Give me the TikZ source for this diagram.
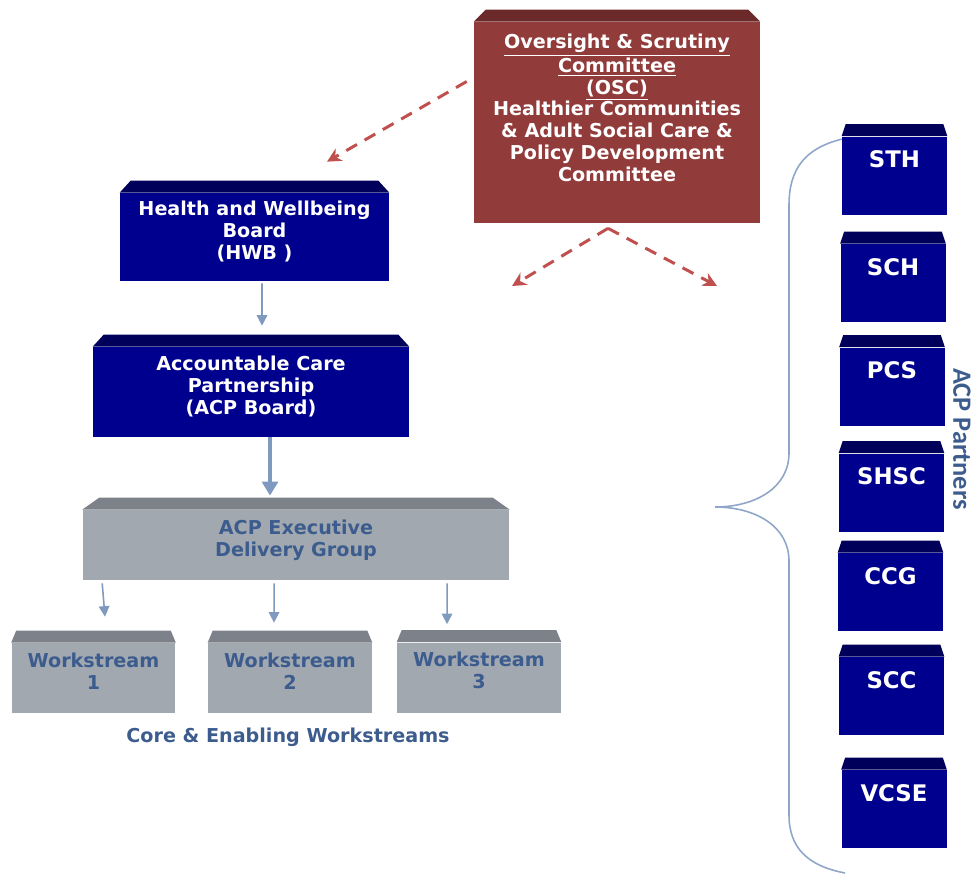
\documentclass[tikz,border=0pt]{standalone}
\usepackage{fontspec}
\setmainfont{DejaVu Sans}
\newfontfamily\sidefont{Carlito}
\usepackage{tikz}
\usetikzlibrary{arrows.meta,positioning,calc}

\definecolor{oscred}{HTML}{913B3A}
\definecolor{osctop}{HTML}{6B2A29}
\definecolor{boardblue}{HTML}{00008E}
\definecolor{boardtop}{HTML}{00005A}
\definecolor{groupgrey}{HTML}{A1A8B0}
\definecolor{grouptop}{HTML}{7D8189}
\definecolor{grouptext}{HTML}{3D5C8E}
\definecolor{linkblue}{HTML}{7F99BF}
\definecolor{dashred}{HTML}{C0504D}
\definecolor{braceblue}{HTML}{8FA6C8}

\tikzset{
  lbl/.style={font=\bfseries\fontsize{10.9}{12.4}\selectfont, align=center, inner sep=0pt},
  oscbox/.style={lbl, fill=oscred, text=white, text depth=17pt},
  board/.style={lbl, fill=boardblue, text=white, text depth=8pt},
  group/.style={lbl, fill=groupgrey, text=grouptext, text depth=8pt},
  partner/.style={font=\bfseries\fontsize{13}{15}\selectfont, fill=boardblue, text=white, inner sep=0pt,
    minimum width=2.1cm, minimum height=1.56cm, text depth=18.7pt},
  link/.style={draw=linkblue, line width=0.9pt, -{Triangle[length=6pt,width=6pt]}},
  dashlink/.style={draw=dashred, line width=1.7pt, dash pattern=on 7pt off 5pt, -{Stealth[length=8pt,width=8pt]}},
  brace/.style={draw=braceblue, line width=0.9pt},
}

\begin{document}
\begin{tikzpicture}[x=0.02cm, y=-0.02cm]
\useasboundingbox (0,0) rectangle (976,873);

% committee, boards and groups
\node[oscbox, minimum width=5.72cm, minimum height=4.02cm] (osc) at (617,122.5)
  {\underline{Oversight \& Scrutiny}\\ \underline{Committee}\\ \underline{(OSC)}\\
   Healthier Communities\\ \& Adult Social Care \&\\ Policy Development\\ Committee};
\node[board, minimum width=5.38cm, minimum height=1.76cm] (hwb) at (254.5,237)
  {Health and Wellbeing\\ Board\\ (HWB )};
\node[board, minimum width=6.32cm, minimum height=1.8cm] (acp) at (251,392)
  {Accountable Care\\ Partnership\\ (ACP Board)};
\node[group, minimum width=8.54cm, minimum height=1.4cm] (edg) at (296,545)
  {ACP Executive\\ Delivery Group};
\node[group, minimum width=3.28cm, minimum height=1.4cm] (ws1) at (93.5,678) {Workstream\\ 1};
\node[group, minimum width=3.28cm, minimum height=1.4cm] (ws2) at (290,678) {Workstream\\ 2};
\node[group, minimum width=3.28cm, minimum height=1.4cm] (ws3) at (479,677.5) {Workstream\\ 3};
\node[lbl, text=grouptext] (caption) at (288,737.5) {Core \& Enabling Workstreams};

% partners
\foreach \n/\t/\x/\y in {sth/STH/894.5/175.5, sch/SCH/893/283, pcs/PCS/892/386.5,
    shsc/SHSC/891.5/492.5, ccg/CCG/890.5/592, scc/SCC/891.5/696, vcse/VCSE/894/809}
  \node[partner] (\n) at (\x,\y) {\t};
\node[font=\sidefont\bfseries\fontsize{15}{17}\selectfont, text=grouptext, rotate=-90] (partners)
  at (962,439) {ACP Partners};

% lids on top of the boxes
\foreach \n/\i/\c in {osc/12/osctop, hwb/11/boardtop, acp/11/boardtop, edg/17/grouptop,
    ws1/5/grouptop, ws2/5/grouptop, ws3/5/grouptop, sth/4/boardtop, sch/4/boardtop,
    pcs/4/boardtop, shsc/4/boardtop, ccg/4/boardtop, scc/4/boardtop, vcse/4/boardtop}
  \fill[\c] (\n.north west) -- ++(\i,-12) -- ($(\n.north east)+(-\i,-12)$) -- (\n.north east) -- cycle;

% reporting lines
\draw[link] ($(hwb.south)+(7.5,2)$) -- ($(acp.north)+(11,-21)$);
\draw[link, line width=2.4pt, -{Triangle[length=8pt,width=9pt]}] ($(acp.south)+(19,0)$) -- ($(edg.north)+(-26,-14)$);
\draw[link] ($(edg.south west)+(20,3)$) -- ($(ws1.north)+(11.5,-26)$);
\draw[link] ($(edg.south west)+(192,3)$) -- ($(ws2.north)+(-16,-20)$);
\draw[link] ($(edg.south west)+(365,3)$) -- ($(ws3.north)+(-32,-18)$);

% scrutiny
\coordinate (apex) at ($(osc.south)+(-9,5)$);
\coordinate (tipL) at (512,286);
\coordinate (tipR) at (717,286);
\draw[dashlink] ($(osc.west)+(-7,-41)$) -- ($(hwb.north)+(72.5,-31)$);
\draw[dashlink] (apex) -- (tipL);
\draw[dashlink] (apex) -- (tipR);

% brace round the partners
\coordinate (bracetip) at (715,507);
\draw[brace] ($(sth.north west)+(0,3)$) .. controls (806,148) and (789,168) .. (789,205)
  -- (789,453) .. controls (789,488) and (755,507) .. (bracetip)
  .. controls (755,507) and (789,526) .. (789,561)
  -- (789,815) .. controls (789,848) and (808,866) .. (845,873);
\end{tikzpicture}
\end{document}
